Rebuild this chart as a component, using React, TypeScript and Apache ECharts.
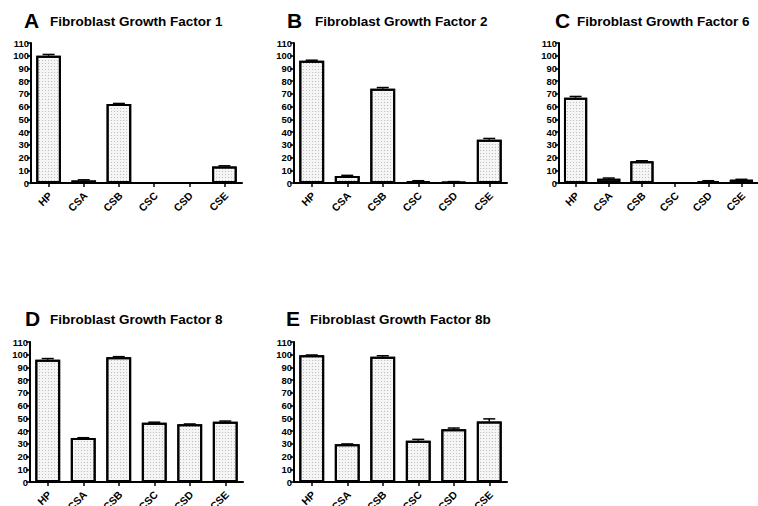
import React, { useEffect, useRef } from "react";
import * as echarts from "echarts";

const categories = ["HP", "CSA", "CSB", "CSC", "CSD", "CSE"];
const panelLetters = ["A", "B", "C", "D", "E"];
const panelTitles = [
  "Fibroblast Growth Factor 1",
  "Fibroblast Growth Factor 2",
  "Fibroblast Growth Factor 6",
  "Fibroblast Growth Factor 8",
  "Fibroblast Growth Factor 8b",
];
const fgf1 = [100, 2, 62, 0, 0, 13];
const fgf1Err = [1, 0.5, 0.5, 0, 0, 0.5];
const fgf2 = [96, 5.5, 74, 1.5, 0.8, 34];
const fgf2Err = [0.5, 0.5, 1, 0.3, 0.3, 1];
const fgf6 = [67, 3.4, 17, 0, 1.5, 2.6];
const fgf6Err = [1, 0.5, 0.5, 0, 0.3, 0.3];
const fgf8 = [96, 34.5, 98, 46.5, 45.3, 47.4];
const fgf8Err = [1, 0.3, 0.5, 0.5, 0.3, 0.5];
const fgf8b = [99.5, 29.6, 98.4, 32.5, 41.4, 47.6];
const fgf8bErr = [0.3, 0.3, 0.8, 1, 1, 2];
const yTicks = { min: 0, max: 110, interval: 10 };

const panelValues = [fgf1, fgf2, fgf6, fgf8, fgf8b];
const panelErrors = [fgf1Err, fgf2Err, fgf6Err, fgf8Err, fgf8bErr];

// layout (pixels)
const grids: any[] = [
  { left: 31, top: 43, width: 211, height: 140 },
  { left: 294, top: 43, width: 213, height: 140 },
  { left: 559, top: 43, width: 212, height: 140 },
  { left: 30, top: 342, width: 213, height: 140 },
  { left: 294, top: 342, width: 213, height: 140 },
];
const titlePos = [
  { lx: 24, tx: 50, y: 21 },
  { lx: 287, tx: 315, y: 21 },
  { lx: 555, tx: 577, y: 21 },
  { lx: 25, tx: 50, y: 319 },
  { lx: 286, tx: 310, y: 319 },
];

const FONT = "Liberation Sans, Arial, sans-serif";

export default function App() {
  const ref = useRef<HTMLDivElement>(null);
  useEffect(() => {
    if (!ref.current) return;
    const chart = echarts.init(ref.current, null, { renderer: "svg" });
    const xAxis: any[] = [];
    const yAxis: any[] = [];
    const series: any[] = [];
    const graphic: any[] = [];
    grids.forEach((g, i) => {
      xAxis.push({
        type: "category",
        gridIndex: i,
        data: categories,
        axisLine: { show: true, lineStyle: { color: "#000", width: 2 } },
        axisTick: { show: true, alignWithLabel: true, length: 4, lineStyle: { color: "#000", width: 1.5 } },
        axisLabel: { show: false },
        splitLine: { show: false },
      });
      yAxis.push({
        type: "value",
        gridIndex: i,
        min: yTicks.min,
        max: yTicks.max,
        interval: yTicks.interval,
        axisLine: { show: true, lineStyle: { color: "#000", width: 2 } },
        axisTick: { show: true, length: 4, lineStyle: { color: "#000", width: 1.5 } },
        axisLabel: { color: "#000", fontWeight: "bold", fontSize: 9.5, fontFamily: FONT, margin: 2 },
        splitLine: { show: false },
      });
      series.push({
        type: "bar",
        xAxisIndex: i,
        yAxisIndex: i,
        data: panelValues[i],
        barCategoryGap: "30%",
        itemStyle: {
          color: "#f5f5f5",
          borderColor: "#000",
          borderWidth: 2,
          decal: { symbol: "rect", symbolSize: 1, color: "rgba(0,0,0,0.22)", dashArrayX: [1, 2], dashArrayY: [1, 2], rotation: 0 },
        },
      });
      series.push({
        type: "custom",
        xAxisIndex: i,
        yAxisIndex: i,
        z: 5,
        data: panelValues[i].map((v, k) => [k, v, panelErrors[i][k]]),
        renderItem: (params: any, api: any) => {
          const v = api.value(1);
          const e = api.value(2);
          if (!e || v <= 0) return null;
          const base = api.coord([api.value(0), v]);
          const top = api.coord([api.value(0), v + e]);
          return {
            type: "group",
            children: [
              { type: "line", shape: { x1: base[0], y1: base[1], x2: top[0], y2: top[1] }, style: { stroke: "#000", lineWidth: 1.5 } },
              { type: "line", shape: { x1: top[0] - 6, y1: top[1], x2: top[0] + 6, y2: top[1] }, style: { stroke: "#000", lineWidth: 1.5 } },
            ],
          };
        },
      });
      // rotated category labels, placed at each category's position on the x axis
      series.push({
        type: "custom",
        xAxisIndex: i,
        yAxisIndex: i,
        silent: true,
        data: categories.map((c, k) => [k, 0]),
        renderItem: (params: any, api: any) => {
          const p = api.coord([api.value(0), 0]);
          return {
            type: "text",
            x: p[0] + 2,
            y: p[1] + 11,
            rotation: Math.PI / 4,
            style: {
              text: categories[params.dataIndex],
              font: `bold 10.5px ${FONT}`,
              fill: "#000",
              align: "right",
              verticalAlign: "middle",
            },
          };
        },
      });
      const t = titlePos[i];
      graphic.push({ type: "text", left: t.lx, top: t.y - 11, style: { text: panelLetters[i], font: `bold 21px ${FONT}`, fill: "#000" } });
      graphic.push({ type: "text", left: t.tx, top: t.y - 7, style: { text: panelTitles[i], font: `bold 13.5px ${FONT}`, fill: "#000" } });
    });
    chart.setOption({
      animation: false,
      backgroundColor: "#fff",
      grid: grids,
      xAxis,
      yAxis,
      series,
      graphic,
    });
    return () => chart.dispose();
  }, []);
  return <div ref={ref} style={{ position: "fixed", left: 0, top: 0, width: 758, height: 506, background: "#fff" }} />;
}
